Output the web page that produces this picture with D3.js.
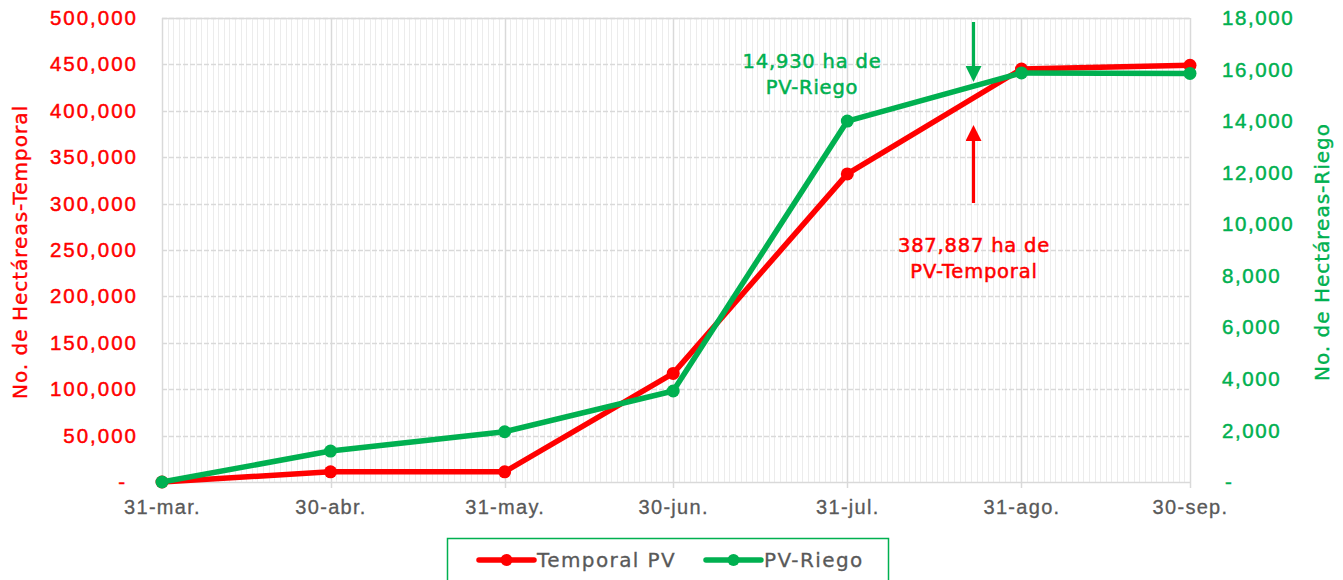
<!DOCTYPE html>
<html><head><meta charset="utf-8">
<script src="https://cdn.jsdelivr.net/npm/d3@7"></script>
<style>
html,body{margin:0;padding:0;background:#fff;}
svg{display:block;font-family:"DejaVu Sans",sans-serif;}
</style></head>
<body><svg id="c" width="1343" height="580"></svg>
<script>
const categories = ["31-mar.","30-abr.","31-may.","30-jun.","31-jul.","31-ago.","30-sep."];
const dates = ["2021-03-31","2021-04-30","2021-05-31","2021-06-30","2021-07-31","2021-08-31","2021-09-30"];
const temporalPV = [0, 11000, 11000, 117000, 332000, 445000, 449000];
const riegoPV = [0, 1200, 1950, 3530, 14000, 15870, 15850];
const leftTicks = [0,50000,100000,150000,200000,250000,300000,350000,400000,450000,500000];
const rightTicks = [0,2000,4000,6000,8000,10000,12000,14000,16000,18000];
const seriesNames = ["Temporal PV","PV-Riego"];
const annotRiego = {date:"2021-08-22", lines:["14,930 ha de","PV-Riego"]};
const annotTemporal = {date:"2021-08-22", lines:["387,887 ha de","PV-Temporal"]};

const RED="#ff0000", GREEN="#00b050", GRID="#d9d9d9", TXT="#595959";
const svg = d3.select("#c");
const m = {l:162, r:1190, t:18, b:482};
const parse = d3.timeParse("%Y-%m-%d");
const dts = dates.map(parse);
const x = d3.scaleTime().domain([dts[0], dts[dts.length-1]]).range([m.l, m.r]);
const yL = d3.scaleLinear().domain([0,500000]).range([m.b, m.t]);
const yR = d3.scaleLinear().domain([0,18000]).range([m.b, m.t]);

function bold(sel,c,w){ sel.attr("stroke",c).attr("stroke-width",w||0.45); }

// minor daily gridlines
const days = d3.timeDay.range(dts[0], d3.timeDay.offset(dts[dts.length-1],1));
svg.append("g").selectAll("line").data(days).join("line")
  .attr("x1",d=>Math.round(x(d))+0.5).attr("x2",d=>Math.round(x(d))+0.5)
  .attr("y1",m.t).attr("y2",m.b).attr("stroke","#ececec").attr("stroke-width",1);
// horizontal dashed gridlines
svg.append("g").selectAll("line").data(leftTicks.slice(1)).join("line")
  .attr("x1",m.l).attr("x2",m.r).attr("y1",d=>Math.round(yL(d))+0.5).attr("y2",d=>Math.round(yL(d))+0.5)
  .attr("stroke",GRID).attr("stroke-width",1.3).attr("stroke-dasharray","5,2");
// major monthly gridlines
svg.append("g").selectAll("line").data(dts).join("line")
  .attr("x1",d=>Math.round(x(d))+0.5).attr("x2",d=>Math.round(x(d))+0.5)
  .attr("y1",m.t).attr("y2",m.b+6).attr("stroke",GRID).attr("stroke-width",1.5);
svg.append("line").attr("x1",m.l).attr("x2",m.r).attr("y1",m.t+0.5).attr("y2",m.t+0.5).attr("stroke",GRID).attr("stroke-width",1.5);
svg.append("line").attr("x1",m.l).attr("x2",m.r).attr("y1",m.b+0.5).attr("y2",m.b+0.5).attr("stroke",GRID).attr("stroke-width",1.5);

const fmt = d => d===0 ? "-" : d3.format(",")(d);
// left axis
const gl = svg.append("g").attr("transform",`translate(${m.l},0)`)
  .call(d3.axisLeft(yL).tickValues(leftTicks).tickFormat(fmt).tickSize(0).tickPadding(24));
gl.select(".domain").remove();
gl.selectAll("text").attr("fill",RED).style("font-size","20.5px").style("letter-spacing","2px")
  .attr("dx",d=>d===0?-11:0).call(bold,RED);
// right axis
const gr = svg.append("g").attr("transform",`translate(${m.r},0)`)
  .call(d3.axisRight(yR).tickValues(rightTicks).tickFormat(fmt).tickSize(0).tickPadding(32));
gr.select(".domain").remove();
gr.selectAll("text").attr("fill",GREEN).style("font-size","20.5px").style("letter-spacing","1.6px")
  .attr("dx",d=>d===0?3:0).call(bold,GREEN);
// bottom axis
const gb = svg.append("g").attr("transform",`translate(0,${m.b})`)
  .call(d3.axisBottom(x).tickValues(dts).tickFormat((d,i)=>categories[i]).tickSize(0).tickPadding(18));
gb.select(".domain").remove();
gb.selectAll("text").attr("fill",TXT).style("font-size","20px").style("letter-spacing","1.3px").call(bold,TXT,0.3);

// axis titles
svg.append("text").attr("transform",`translate(27,${(m.t+m.b)/2+2}) rotate(-90)`)
  .attr("text-anchor","middle").attr("fill",RED).style("font-size","20px").style("letter-spacing","1px")
  .call(bold,RED,0.4).text("No. de Hectáreas-Temporal");
svg.append("text").attr("transform",`translate(1329,${(m.t+m.b)/2+2}) rotate(-90)`)
  .attr("text-anchor","middle").attr("fill",GREEN).style("font-size","20px").style("letter-spacing","1px")
  .call(bold,GREEN,0.4).text("No. de Hectáreas-Riego");

// lines
const dataT = dts.map((d,i)=>({d, v:temporalPV[i]}));
const dataR = dts.map((d,i)=>({d, v:riegoPV[i]}));
const lineT = d3.line().x(p=>x(p.d)).y(p=>yL(p.v));
const lineR = d3.line().x(p=>x(p.d)).y(p=>yR(p.v));
svg.append("path").datum(dataT).attr("d",lineT).attr("fill","none").attr("stroke",RED).attr("stroke-width",5.5).attr("stroke-linejoin","round");
svg.append("g").selectAll("circle").data(dataT).join("circle").attr("cx",p=>x(p.d)).attr("cy",p=>yL(p.v)).attr("r",6.5).attr("fill",RED);
svg.append("path").datum(dataR).attr("d",lineR).attr("fill","none").attr("stroke",GREEN).attr("stroke-width",5.5).attr("stroke-linejoin","round");
svg.append("g").selectAll("circle").data(dataR).join("circle").attr("cx",p=>x(p.d)).attr("cy",p=>yR(p.v)).attr("r",6.5).attr("fill",GREEN);

// annotations
const defs = svg.append("defs");
function marker(id,color){
  defs.append("marker").attr("id",id).attr("viewBox","0 0 10 10").attr("refX",5).attr("refY",5)
    .attr("markerWidth",5).attr("markerHeight",5).attr("orient","auto-start-reverse").attr("markerUnits","strokeWidth")
    .append("path").attr("d","M0,0 L10,5 L0,10 z").attr("fill",color);
}
marker("ag",GREEN); marker("ar",RED);
const ax = Math.round(x(parse(annotRiego.date)))+0.5+2;
svg.append("line").attr("x1",ax).attr("x2",ax).attr("y1",22).attr("y2",74)
  .attr("stroke",GREEN).attr("stroke-width",3.2).attr("marker-end","url(#ag)");
svg.append("line").attr("x1",ax).attr("x2",ax).attr("y1",203).attr("y2",133)
  .attr("stroke",RED).attr("stroke-width",3.2).attr("marker-end","url(#ar)");
const tr = svg.append("text").attr("text-anchor","middle").attr("fill",GREEN).style("font-size","19.5px").style("letter-spacing","0.8px").call(bold,GREEN,0.5);
annotRiego.lines.forEach((s,i)=>tr.append("tspan").attr("x",812).attr("y",68+i*26).text(s));
const tt = svg.append("text").attr("text-anchor","middle").attr("fill",RED).style("font-size","19.5px").style("letter-spacing","0.8px").call(bold,RED,0.5);
annotTemporal.lines.forEach((s,i)=>tt.append("tspan").attr("x",974).attr("y",252+i*26).text(s));

// legend
svg.append("rect").attr("x",447.5).attr("y",538.5).attr("width",441).attr("height",60)
  .attr("fill","#fff").attr("stroke",GREEN).attr("stroke-width",1.5);
const leg = [{n:seriesNames[0],c:RED,x0:479},{n:seriesNames[1],c:GREEN,x0:706}];
leg.forEach(l=>{
  svg.append("line").attr("x1",l.x0).attr("x2",l.x0+55).attr("y1",560).attr("y2",560).attr("stroke",l.c).attr("stroke-width",5.5).attr("stroke-linecap","round");
  svg.append("circle").attr("cx",l.x0+27.5).attr("cy",560).attr("r",6).attr("fill",l.c);
  svg.append("text").attr("x",l.x0+58).attr("y",567).attr("fill",TXT).style("font-size","20px").style("letter-spacing","1.4px").call(bold,TXT,0.3).text(l.n);
});
</script></body></html>
